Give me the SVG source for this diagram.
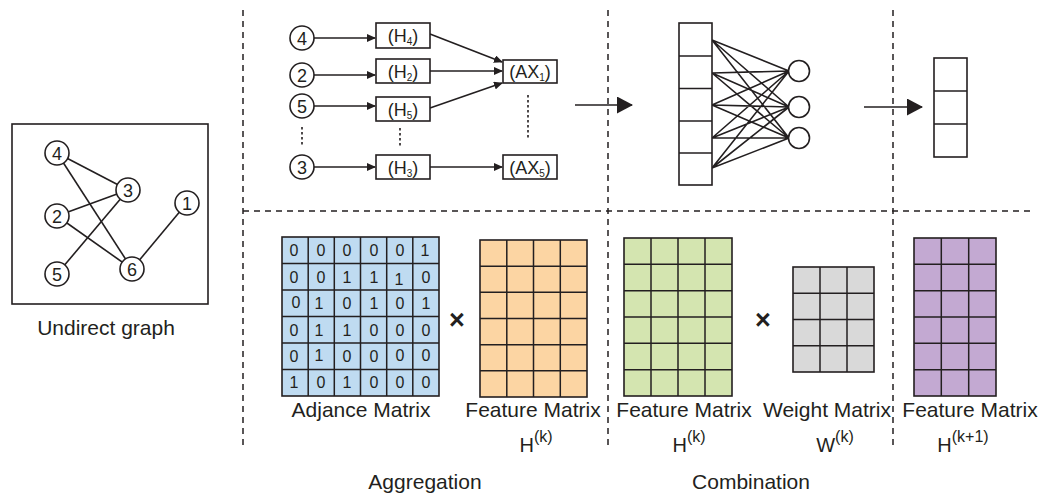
<svg xmlns="http://www.w3.org/2000/svg" width="1041" height="495" viewBox="0 0 1041 495">
  <style>
    .t { font-family: "Liberation Sans", Arial, sans-serif; fill: #231f20; }
    .lbl { font-size: 21px; text-anchor: middle; }
    .num { font-size: 18px; text-anchor: middle; }
    .cell { font-size: 16px; text-anchor: middle; }
    .bx { font-size: 18px; text-anchor: middle; }
    .sub { font-size: 10px; }
    .hk { font-size: 20px; text-anchor: middle; }
    .sup { font-size: 16px; }
    .ln { stroke: #231f20; stroke-width: 1.6; fill: none; }
    .node { fill: #fff; stroke: #231f20; stroke-width: 1.6; }
    .box { fill: #fff; stroke: #231f20; stroke-width: 1.6; }
    .dash { stroke: #231f20; stroke-width: 1.5; stroke-dasharray: 6 5; fill: none; }
    .dot { stroke: #231f20; stroke-width: 1.6; stroke-dasharray: 2.5 2.5; fill: none; }
    .grid { stroke: #231f20; stroke-width: 1.5; fill: none; }
    .x { font-size: 27px; font-weight: bold; text-anchor: middle; }
  </style>
  <defs>
    <marker id="ah" markerUnits="userSpaceOnUse" markerWidth="9" markerHeight="8" refX="8" refY="4" orient="auto">
      <path d="M0,0 L9,4 L0,8 z" fill="#231f20"/>
    </marker>
    <marker id="bigah" markerUnits="userSpaceOnUse" markerWidth="16" markerHeight="17" refX="15" refY="8.5" orient="auto">
      <path d="M0,0 L16,8.5 L0,17 z" fill="#231f20"/>
    </marker>
  </defs>

  <rect width="1041" height="495" fill="#fff"/>

  <!-- section separators -->
  <g id="separators">
    <line class="dash" x1="243" y1="10" x2="243" y2="445"/>
    <line class="dash" x1="608" y1="10" x2="608" y2="445"/>
    <line class="dash" x1="893" y1="10" x2="893" y2="445"/>
    <line class="dash" x1="243" y1="211" x2="1030" y2="211"/>
  </g>

  <!-- undirected graph -->
  <g id="graph">
    <rect class="box" x="12" y="124" width="196" height="180" fill="none"/>
    <g class="ln">
      <line x1="57" y1="153" x2="128" y2="190"/>
      <line x1="57" y1="153" x2="132" y2="269"/>
      <line x1="57" y1="216" x2="128" y2="190"/>
      <line x1="57" y1="216" x2="132" y2="269"/>
      <line x1="57" y1="274" x2="128" y2="190"/>
      <line x1="132" y1="269" x2="187" y2="203"/>
    </g>
    <g id="g4"><circle class="node" cx="57" cy="153" r="12"/><text class="t num" x="57" y="159.5">4</text></g>
    <g id="g3"><circle class="node" cx="128" cy="190" r="12"/><text class="t num" x="128" y="196.5">3</text></g>
    <g id="g2"><circle class="node" cx="57" cy="216" r="12"/><text class="t num" x="57" y="222.5">2</text></g>
    <g id="g1"><circle class="node" cx="187" cy="203" r="12"/><text class="t num" x="187" y="209.5">1</text></g>
    <g id="g5"><circle class="node" cx="57" cy="274" r="12"/><text class="t num" x="57" y="280.5">5</text></g>
    <g id="g6"><circle class="node" cx="132" cy="269" r="12"/><text class="t num" x="132" y="275.5">6</text></g>
    <text class="t lbl" x="106" y="335">Undirect graph</text>
  </g>

  <!-- aggregation flow connectors -->
  <g id="flow-connectors" class="ln">
    <line x1="314" y1="38" x2="375" y2="38" marker-end="url(#ah)"/>
    <line x1="314" y1="75" x2="375" y2="75" marker-end="url(#ah)"/>
    <line x1="314" y1="106" x2="375" y2="106" marker-end="url(#ah)"/>
    <line x1="314" y1="167" x2="375" y2="167" marker-end="url(#ah)"/>
    <line x1="430" y1="34" x2="502" y2="62" marker-end="url(#ah)"/>
    <line x1="430" y1="71" x2="502" y2="71" marker-end="url(#ah)"/>
    <line x1="430" y1="108" x2="502" y2="83" marker-end="url(#ah)"/>
    <line x1="430" y1="167" x2="502" y2="167" marker-end="url(#ah)"/>
    <line class="dot" x1="302" y1="127" x2="302" y2="146"/>
    <line class="dot" x1="400" y1="128" x2="400" y2="147"/>
    <line class="dot" x1="528" y1="95" x2="528" y2="139"/>
  </g>

  <!-- input nodes -->
  <g id="n4"><circle class="node" cx="302" cy="38" r="12"/><text class="t num" x="302" y="44.5">4</text></g>
  <g id="n2"><circle class="node" cx="302" cy="75" r="12"/><text class="t num" x="302" y="81.5">2</text></g>
  <g id="n5"><circle class="node" cx="302" cy="106" r="12"/><text class="t num" x="302" y="112.5">5</text></g>
  <g id="n3"><circle class="node" cx="302" cy="167" r="12"/><text class="t num" x="302" y="173.5">3</text></g>

  <!-- neighbour feature boxes -->
  <g id="h4"><rect class="box" x="376" y="23" width="54" height="25"/><text class="t bx" x="403" y="42">(H<tspan class="sub" dy="3">4</tspan><tspan dy="-3">)</tspan></text></g>
  <g id="h2"><rect class="box" x="376" y="59" width="54" height="24"/><text class="t bx" x="403" y="77.5">(H<tspan class="sub" dy="3">2</tspan><tspan dy="-3">)</tspan></text></g>
  <g id="h5"><rect class="box" x="376" y="97" width="54" height="24"/><text class="t bx" x="403" y="115.5">(H<tspan class="sub" dy="3">5</tspan><tspan dy="-3">)</tspan></text></g>
  <g id="h3"><rect class="box" x="376" y="155" width="54" height="24"/><text class="t bx" x="403" y="173.5">(H<tspan class="sub" dy="3">3</tspan><tspan dy="-3">)</tspan></text></g>

  <!-- aggregated boxes -->
  <g id="ax1"><rect class="box" x="503" y="60" width="54" height="23"/><text class="t bx" x="530" y="77.5">(AX<tspan class="sub" dy="3">1</tspan><tspan dy="-3">)</tspan></text></g>
  <g id="ax5"><rect class="box" x="503" y="155" width="54" height="24"/><text class="t bx" x="530" y="173.5">(AX<tspan class="sub" dy="3">5</tspan><tspan dy="-3">)</tspan></text></g>

  <!-- arrows between stages -->
  <g id="stage-arrows" class="ln">
    <line x1="575" y1="105" x2="632" y2="105" marker-end="url(#bigah)"/>
    <line x1="864" y1="107" x2="922" y2="107" marker-end="url(#bigah)"/>
  </g>

  <!-- dense layer -->
  <g id="dense-edges" class="ln" stroke-width="1.4">
    <path d="M712,40 L789,71 M712,40 L789,107 M712,40 L789,138
             M712,73 L789,71 M712,73 L789,107 M712,73 L789,138
             M712,105 L789,71 M712,105 L789,107 M712,105 L789,138
             M712,138 L789,71 M712,138 L789,107 M712,138 L789,138
             M712,168 L789,71 M712,168 L789,107 M712,168 L789,138"/>
  </g>
  <g id="dense-input">
    <rect class="box" x="679" y="23" width="33" height="162"/>
    <path class="grid" d="M679,56 H712 M679,88.5 H712 M679,121 H712 M679,153 H712"/>
  </g>
  <g id="dense-out">
    <circle class="node" cx="799" cy="71" r="10.5"/>
    <circle class="node" cx="799" cy="107" r="10.5"/>
    <circle class="node" cx="799" cy="138" r="10.5"/>
  </g>

  <!-- output vector -->
  <g id="out-vector">
    <rect class="box" x="934" y="58" width="33" height="99"/>
    <path class="grid" d="M934,91 H967 M934,124 H967"/>
  </g>

  <!-- adjacency matrix -->
  <g id="adjacency">
    <rect x="282" y="237" width="157" height="159" fill="#bfdbf1" stroke="#231f20" stroke-width="1.6"/>
    <path class="grid" d="M308.2,237 V396 M334.3,237 V396 M360.5,237 V396 M386.7,237 V396 M412.8,237 V396
                          M282,263.5 H439 M282,290 H439 M282,316.5 H439 M282,343 H439 M282,369.5 H439"/>
    <g class="t cell">
      <text x="294" y="256">0</text><text x="321" y="256">0</text><text x="347" y="256">0</text><text x="374" y="256">0</text><text x="400" y="256">0</text><text x="425" y="256">1</text>
      <text x="294" y="283">0</text><text x="321" y="283">0</text><text x="347" y="283">1</text><text x="374" y="283">1</text><text x="399" y="285">1</text><text x="426" y="283">0</text>
      <text x="296" y="308">0</text><text x="319" y="309">1</text><text x="347" y="309">0</text><text x="374" y="309">1</text><text x="400" y="309">0</text><text x="426" y="309">1</text>
      <text x="294" y="336">0</text><text x="319" y="336">1</text><text x="347" y="336">1</text><text x="374" y="336">0</text><text x="400" y="336">0</text><text x="426" y="336">0</text>
      <text x="294" y="362">0</text><text x="319" y="361">1</text><text x="347" y="362">0</text><text x="374" y="362">0</text><text x="400" y="361">0</text><text x="426" y="361">0</text>
      <text x="294" y="388">1</text><text x="321" y="388">0</text><text x="347" y="388">1</text><text x="374" y="388">0</text><text x="400" y="388">0</text><text x="426" y="388">0</text>
    </g>
    <text class="t lbl" x="361" y="417">Adjance Matrix</text>
  </g>

  <text class="t x" x="457" y="329">×</text>

  <!-- feature matrix H(k), aggregation side -->
  <g id="feature-agg">
    <rect x="480" y="240" width="107" height="157" fill="#fcd5a3" stroke="#231f20" stroke-width="1.6"/>
    <path class="grid" d="M506.8,240 V397 M533.5,240 V397 M560.3,240 V397
                          M480,266.2 H587 M480,292.3 H587 M480,318.5 H587 M480,344.7 H587 M480,370.8 H587"/>
    <text class="t lbl" x="533" y="417">Feature Matrix</text>
    <text class="t hk" x="536" y="452">H<tspan class="sup" dy="-10">(k)</tspan></text>
  </g>

  <!-- feature matrix H(k), combination side -->
  <g id="feature-comb">
    <rect x="624" y="238" width="108" height="158" fill="#d4e5b0" stroke="#231f20" stroke-width="1.6"/>
    <path class="grid" d="M651,238 V396 M678,238 V396 M705,238 V396
                          M624,264.3 H732 M624,290.7 H732 M624,317 H732 M624,343.3 H732 M624,369.7 H732"/>
    <text class="t lbl" x="684" y="417">Feature Matrix</text>
    <text class="t hk" x="689" y="452">H<tspan class="sup" dy="-10">(k)</tspan></text>
  </g>

  <text class="t x" x="763" y="329">×</text>

  <!-- weight matrix -->
  <g id="weight">
    <rect x="793" y="267" width="81" height="105" fill="#d9d9d9" stroke="#231f20" stroke-width="1.6"/>
    <path class="grid" d="M820,267 V372 M847,267 V372
                          M793,293.3 H874 M793,319.5 H874 M793,345.8 H874"/>
    <text class="t lbl" x="827" y="417">Weight Matrix</text>
    <text class="t hk" x="835" y="452">W<tspan class="sup" dy="-10">(k)</tspan></text>
  </g>

  <!-- feature matrix H(k+1) -->
  <g id="feature-next">
    <rect x="914" y="238" width="82" height="158" fill="#c3a9d2" stroke="#231f20" stroke-width="1.6"/>
    <path class="grid" d="M941.3,238 V396 M968.7,238 V396
                          M914,264.3 H996 M914,290.7 H996 M914,317 H996 M914,343.3 H996 M914,369.7 H996"/>
    <text class="t lbl" x="970" y="417">Feature Matrix</text>
    <text class="t hk" x="963" y="452">H<tspan class="sup" dy="-10">(k+1)</tspan></text>
  </g>

  <!-- stage titles -->
  <text class="t lbl" x="425" y="489">Aggregation</text>
  <text class="t lbl" x="751" y="489">Combination</text>
</svg>
